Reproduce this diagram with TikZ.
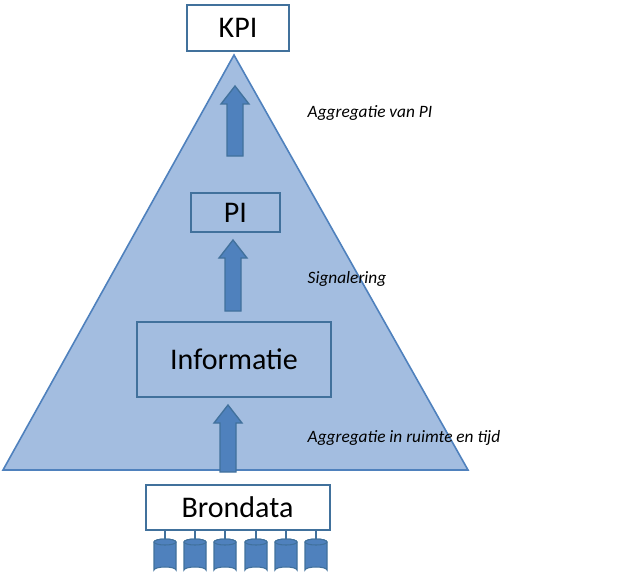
\documentclass[tikz,border=0pt]{standalone}
\usepackage{fontspec}
\setmainfont{Carlito}
\definecolor{bd}{HTML}{41719C}
\definecolor{tri}{HTML}{A3BDE0}
\definecolor{arr}{HTML}{4F81BD}
\begin{document}
\begin{tikzpicture}[x=0.75pt,y=-0.75pt,
  box/.style={draw=bd,line width=1.5pt,inner sep=0pt,font=\fontsize{22.5}{26}\selectfont},
  lab/.style={anchor=west,font=\fontsize{13}{15}\selectfont\itshape},
  blk/.style={draw=bd,fill=arr,line width=1pt,line join=miter},
  cyl/.style={draw=bd,fill=arr,line width=0.8pt}]
\useasboundingbox (0,0) rectangle (620,574);
\draw[draw=arr,fill=tri,line width=1.2pt] (234,55) -- (468,470) -- (3,470) -- cycle;
\node[box,fill=white,minimum width=76.5pt,minimum height=34.5pt] (kpi) at (238,28) {KPI};
\node[box,minimum width=67pt,minimum height=29pt] (pi) at (235.5,212.5) {PI};
\node[box,minimum width=145pt,minimum height=56pt] (inf) at (234,359.5) {Informatie};
\node[box,fill=white,minimum width=138pt,minimum height=34pt] (bron) at (237.5,507.5) {Brondata};
\node[lab] (l1) at (303,113) {Aggregatie van PI};
\node[lab] (l2) at (303,279) {Signalering};
\node[lab] (l3) at (303,438) {Aggregatie in ruimte en tijd};
% block arrows: x centre, bottom y, top y
\foreach \n/\x/\b/\t in {a1/235/156/86, a2/233/311/240, a3/228/472/405}{
  \draw[blk] (\x-8,\b) -- (\x+8,\b) -- (\x+8,\t+18) -- (\x+14,\t+18) -- (\x,\t) -- (\x-14,\t+18) -- (\x-8,\t+18) -- cycle;
  \coordinate (\n) at (\x,\t);
}
\foreach \i/\x in {1/165,2/195,3/225,4/256,5/286,6/316}{
  \coordinate (c\i) at (\x,542);
  \draw[bd,line width=0.8pt] (c\i) -- (c\i |- bron.south);
  \draw[cyl] (\x-11,542) -- (\x-11,570) arc[start angle=180,end angle=360,x radius=11,y radius=3] -- (\x+11,542) arc[start angle=0,end angle=-180,x radius=11,y radius=3] -- cycle;
  \draw[cyl] (\x,542) ellipse[x radius=11,y radius=3];
}
\end{tikzpicture}
\end{document}
